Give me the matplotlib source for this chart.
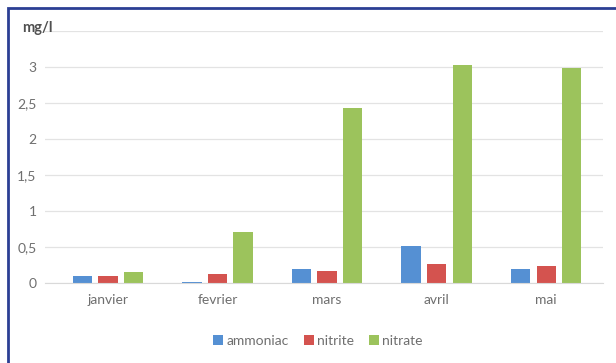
import numpy as np
import matplotlib.pyplot as plt
from matplotlib.patches import Rectangle

plt.rcParams['font.family'] = ['Lato', 'DejaVu Sans']

# valeurs mensuelles (mg/l)
mois = ['janvier', 'fevrier', 'mars', 'avril', 'mai']
ammoniac = [0.10, 0.02, 0.20, 0.52, 0.20]
nitrite = [0.10, 0.12, 0.17, 0.26, 0.24]
nitrate = [0.15, 0.71, 2.43, 3.03, 2.99]
yticks = [0, 0.5, 1, 1.5, 2, 2.5, 3]
ylabels = ['0', '0,5', '1', '1,5', '2', '2,5', '3']

series = [('ammoniac', ammoniac, '#5590d3'),
          ('nitrite', nitrite, '#d4534f'),
          ('nitrate', nitrate, '#9cc35c')]

W, H = 616, 363
fig = plt.figure(figsize=(W / 100, H / 100), dpi=100)
ax = fig.add_axes([45 / W, (H - 283) / H, 558 / W, 252 / H])

x = np.arange(len(mois))
step, width = 0.233, 0.174
for i, (nom, vals, col) in enumerate(series):
    ax.bar(x + (i - 1) * step, vals, width, color=col, label=nom)

ax.set_xlim(-0.575, 4.52)
ax.set_ylim(0, 3.5)
ax.set_yticks(yticks + [3.5])
ax.set_yticklabels(ylabels + [''])
ax.set_xticks(x)
ax.set_xticklabels(mois)
ax.tick_params(length=0, colors='#6f6f6f', labelsize=10)
ax.tick_params(axis='y', pad=6)
ax.tick_params(axis='x', pad=8)
ax.yaxis.grid(True, color='#e3e3e3', lw=0.9)
ax.set_axisbelow(True)
for s in ['top', 'right', 'left']:
    ax.spines[s].set_visible(False)
ax.spines['bottom'].set_color('#d9d9d9')

fig.text(22 / W, 1 - 28 / H, 'mg/l', fontsize=10.5, color='#505050',
         fontweight='bold', va='center', ha='left')

fig.legend(loc='center', bbox_to_anchor=(318 / W, 1 - 341 / H), ncol=3,
           frameon=False, handlelength=0.7, handleheight=0.7,
           handletextpad=0.25, columnspacing=1.1,
           prop={'size': 10}, labelcolor='#6f6f6f')

# cadre bleu
fig.patches.append(Rectangle((8 / W, -0.1), 1.1, 1.1 - 8 / H,
                             transform=fig.transFigure, fill=False,
                             edgecolor='#2b3f94', lw=2))

fig.savefig('out.png', dpi=100)
